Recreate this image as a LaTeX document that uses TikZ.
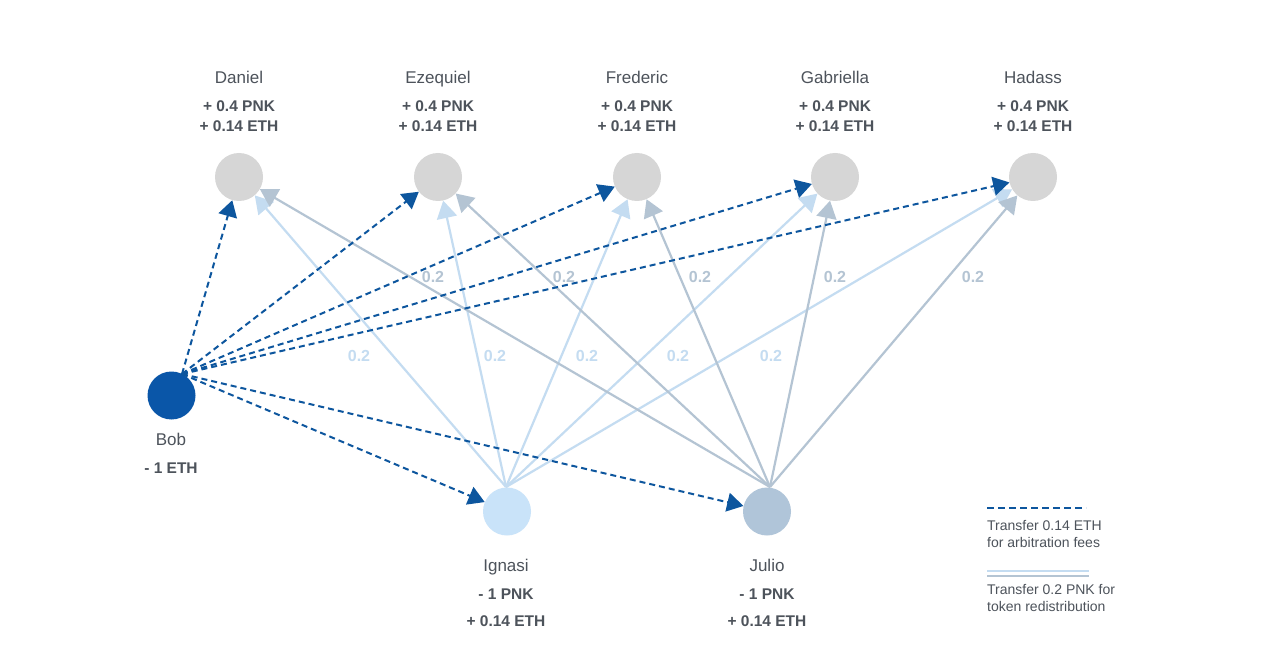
\documentclass[tikz,border=0pt]{standalone}
\usepackage{fontspec}
\setmainfont{Liberation Sans}
\usetikzlibrary{arrows.meta}
\definecolor{txt}{HTML}{4D535B}
\definecolor{bobc}{HTML}{0A56A8}
\definecolor{ethblue}{HTML}{0D569E}
\definecolor{greyc}{HTML}{D6D6D6}
\definecolor{ignc}{HTML}{C9E3F9}
\definecolor{julc}{HTML}{B0C5D9}
\definecolor{ignl}{HTML}{C4DCF1}
\definecolor{jull}{HTML}{B4C4D3}
\begin{document}
\begin{tikzpicture}[x=1pt,y=-1pt,
  person/.style={circle, minimum size=48pt, inner sep=0pt, fill=greyc},
  pname/.style={font=\fontsize{17}{20}\selectfont, text=txt, anchor=base},
  amt/.style={font=\fontsize{15.5}{20}\selectfont\bfseries, text=txt, anchor=base},
  wlabel/.style={font=\fontsize{16}{18}\selectfont\bfseries, anchor=base},
  legtext/.style={font=\fontsize{14}{17}\selectfont, text=txt, align=left, anchor=north west, inner sep=0pt},
  ethedge/.style={draw=ethblue, line width=2pt, dash pattern=on 6pt off 4pt},
  ignedge/.style={draw=ignl, line width=2.2pt},
  juledge/.style={draw=jull, line width=2.2pt},
  bighead/.style={arrows={-Triangle[scale=1.9]}},
]
\useasboundingbox (0,0) rectangle (1280,671);
\fill[white] (0,0) rectangle (1280,671);

% top persons
\node[person] (dan) at (239,177) {};
\node[person] (eze) at (438,177) {};
\node[person] (fre) at (637,177) {};
\node[person] (gab) at (835,177) {};
\node[person] (had) at (1033,177) {};
\node[person, fill=bobc] (bob) at (171.5,395.5) {};
\node[person, fill=ignc] (ign) at (507,511.5) {};
\node[person, fill=julc] (jul) at (767,511.5) {};

% names and amounts
\foreach \n/\x in {Daniel/239, Ezequiel/438, Frederic/637, Gabriella/835, Hadass/1033}{
  \node[pname] (name\n) at (\x,84) {\n};
  \node[amt] (pnk\n) at (\x,112) {+ 0.4 PNK};
  \node[amt] (eth\n) at (\x,132) {+ 0.14 ETH};
}
\node[pname] (nameBob) at (171,445) {Bob};
\node[amt] (ethBob) at (171,473) {- 1 ETH};
\node[pname] (nameIgn) at (506,571) {Ignasi};
\node[amt] (pnkIgn) at (506,599) {- 1 PNK};
\node[amt] (ethIgn) at (506,626) {+ 0.14 ETH};
\node[pname] (nameJul) at (767,571) {Julio};
\node[amt] (pnkJul) at (767,599) {- 1 PNK};
\node[amt] (ethJul) at (767,626) {+ 0.14 ETH};

% weight labels
\foreach \x/\i in {359/a, 495/b, 587/c, 678/d, 771/e}{
  \node[wlabel, text=ignl] (wi\i) at (\x,361) {0.2};
}
\foreach \x/\i in {433/a, 564/b, 700/c, 835/d, 973/e}{
  \node[wlabel, text=jull] (wj\i) at (\x,283) {0.2};
}

% connection points
\coordinate (bobout) at (182,374);
\coordinate (ignout) at (506,487);
\coordinate (julout) at (770,487);

% PNK redistribution edges
\foreach \t in {dan,eze,fre,gab,had}{
  \draw[ignedge, bighead] (ignout) -- (\t);
}
\foreach \t in {dan,eze,fre,gab,had}{
  \draw[juledge, bighead] (julout) -- (\t);
}
% ETH edges
\foreach \t in {dan,eze,fre,gab,had,ign,jul}{
  \draw[ethedge, bighead] (bobout) -- (\t);
}

% legend
\coordinate (l1a) at (987,508);
\coordinate (l1b) at (1086,508);
\draw[draw=ethblue, line width=2.5pt, dash pattern=on 7pt off 4pt] (l1a) -- (l1b);
\node[legtext] (leg1) at (987,520) {Transfer 0.14 ETH\\for arbitration fees};
\coordinate (l2a) at (987,571);
\coordinate (l2b) at (1089,571);
\coordinate (l3a) at (987,576);
\coordinate (l3b) at (1089,576);
\draw[draw=ignl, line width=2.5pt] (l2a) -- (l2b);
\draw[draw=jull, line width=2.5pt] (l3a) -- (l3b);
\node[legtext] (leg2) at (987,584) {Transfer 0.2 PNK for\\token redistribution};
\end{tikzpicture}
\end{document}
